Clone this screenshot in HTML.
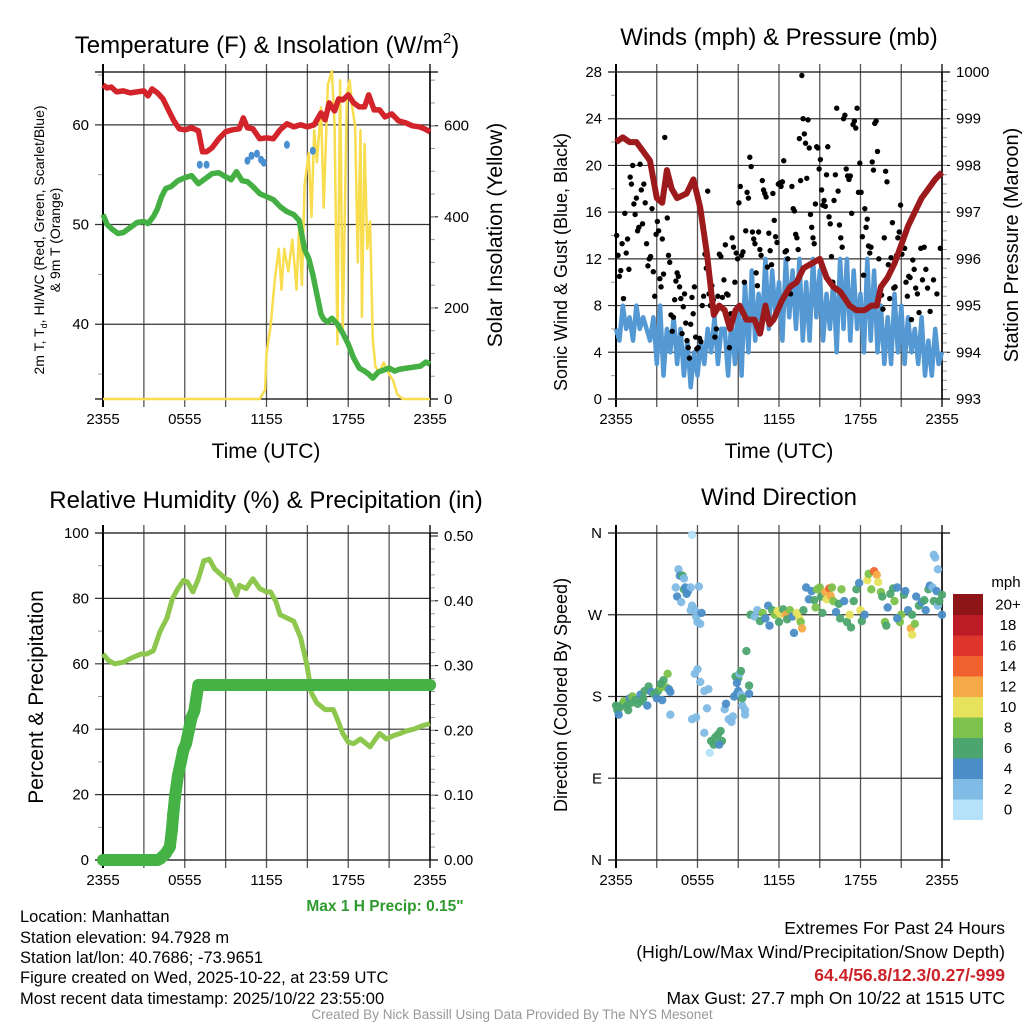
<!DOCTYPE html>
<html><head><meta charset="utf-8"><title>NYS Mesonet Manhattan Meteogram</title>
<style>
html,body{margin:0;padding:0;background:#fff;}
svg{display:block;font-family:"Liberation Sans",sans-serif;}
.tk{font-size:15px;fill:#000;}
.ttl{font-size:24px;fill:#000;}
.ax{font-size:21px;fill:#000;}
.ft{font-size:16.5px;}
.fr{font-size:17.5px;}
</style></head>
<body>
<svg id="chart" width="1024" height="1024" viewBox="0 0 1024 1024" xmlns="http://www.w3.org/2000/svg">
<rect x="0" y="0" width="1024" height="1024" fill="#fff"/>
<g id="p1"></g>
<g id="p2"></g>
<g id="p3"></g>
<g id="p4"></g>

<text class="ttl" x="267" y="53" text-anchor="middle">Temperature (F) &amp; Insolation (W/m<tspan dy="-10" font-size="15">2</tspan><tspan dy="10">)</tspan></text>
<text class="ttl" x="779" y="45" text-anchor="middle">Winds (mph) &amp; Pressure (mb)</text>
<text class="ttl" x="266" y="508" text-anchor="middle">Relative Humidity (%) &amp; Precipitation (in)</text>
<text class="ttl" x="779" y="505" text-anchor="middle">Wind Direction</text>

<text class="ax" x="266" y="458" text-anchor="middle">Time (UTC)</text>
<text class="ax" x="779" y="458" text-anchor="middle">Time (UTC)</text>
<text font-size="14" transform="translate(44,240) rotate(-90)" text-anchor="middle">2m T, T<tspan font-size="9" dy="3">d</tspan><tspan dy="-3">, HI/WC (Red, Green, Scarlet/Blue)</tspan></text>
<text font-size="14" transform="translate(60,240) rotate(-90)" text-anchor="middle">&amp; 9m T (Orange)</text>
<text class="ax" style="font-size:21px" transform="translate(502,235) rotate(-90)" text-anchor="middle">Solar Insolation (Yellow)</text>
<text class="ax" style="font-size:18px" transform="translate(567,262) rotate(-90)" text-anchor="middle">Sonic Wind &amp; Gust (Blue, Black)</text>
<text class="ax" style="font-size:20px" transform="translate(1018,245) rotate(-90)" text-anchor="middle">Station Pressure (Maroon)</text>
<text class="ax" style="font-size:21px" transform="translate(43,697) rotate(-90)" text-anchor="middle">Percent &amp; Precipitation</text>
<text class="ax" style="font-size:18px" transform="translate(567,695) rotate(-90)" text-anchor="middle">Direction (Colored By Speed)</text>

<text x="385" y="911" font-size="15.5" font-weight="bold" style="fill:#2e9a2e" text-anchor="middle">Max 1 H Precip: 0.15"</text>
<g>
<text class="ft" x="20" y="922">Location: Manhattan</text>
<text class="ft" x="20" y="943">Station elevation: 94.7928 m</text>
<text class="ft" x="20" y="963">Station lat/lon: 40.7686; -73.9651</text>
<text class="ft" x="20" y="983">Figure created on Wed, 2025-10-22, at 23:59 UTC</text>
<text class="ft" x="20" y="1004">Most recent data timestamp: 2025/10/22 23:55:00</text>
</g>
<g>
<text class="fr" x="1005" y="934" text-anchor="end">Extremes For Past 24 Hours</text>
<text class="fr" x="1005" y="958" text-anchor="end">(High/Low/Max Wind/Precipitation/Snow Depth)</text>
<text class="fr" x="1005" y="981" text-anchor="end" font-weight="bold" style="fill:#cc2229">64.4/56.8/12.3/0.27/-999</text>
<text class="fr" x="1005" y="1004" text-anchor="end">Max Gust: 27.7 mph On 10/22 at 1515 UTC</text>
</g>
<text x="512" y="1019" font-size="13.5" style="fill:#999" text-anchor="middle">Created By Nick Bassill Using Data Provided By The NYS Mesonet</text>
</svg>
<script>
// ---------- data ----------
const xTickLabels = ["2355","0555","1155","1755","2355"];
// Panel 1
const tempT = [0,0.3,0.6,1,1.5,2,2.5,3,3.3,3.6,4,4.4,4.8,5.2,5.6,6,6.5,7,7.3,7.6,8,8.5,9,9.5,10,10.3,10.6,11,11.5,12,12.5,13,13.5,14,14.5,15,15.5,16,16.3,16.6,17,17.3,17.6,18,18.4,18.8,19.2,19.5,19.9,20.3,20.7,21.2,21.7,22.2,22.7,23.2,23.6,24];
const tempV = [64,63.7,63.8,63.3,63.4,63.2,63.3,63.4,62.9,63.6,63.2,62.6,61.5,60.4,59.6,59.5,59.7,59.4,57.3,57.3,57.7,58.6,59.3,59.5,59.6,60.7,59.7,59.6,58.6,58.7,58.6,59.5,60.1,59.8,60,59.8,60,61.2,60.5,62.2,61.4,62.6,62.5,63,62.2,61.8,61.8,63,61.5,61.5,60.8,61.1,60.4,60.2,59.9,59.8,59.6,59.3];
const dewT = [0,0.3,0.7,1.1,1.5,2,2.5,3,3.3,3.7,4,4.3,4.6,5,5.5,6,6.5,7,7.3,7.6,8,8.5,9,9.4,9.8,10.2,10.6,11,11.5,12,12.5,13,13.5,14,14.4,14.8,15.1,15.4,15.7,16,16.2,16.5,16.8,17.2,17.6,18,18.4,18.8,19.2,19.5,19.8,20.2,20.6,21,21.4,21.8,22.3,22.8,23.3,23.7,24];
const dewV = [51,50,49.5,49.1,49.2,49.7,50.2,50.3,50.1,50.8,51.6,52.8,53.6,53.8,54.4,54.7,54.9,54.1,54.4,54.7,55.1,55.2,54.8,54.5,55.3,54.4,54.3,53.8,53.1,52.8,52.5,51.8,51.3,51,50.4,47.5,46.6,45,43,41,40.5,40.2,40.6,40,39.1,38,36.6,35.6,35.3,35,34.6,35.2,35.4,35.6,35.3,35.5,35.6,35.7,35.8,36.2,36];
const hiT = [7.1,7.6,10.6,10.9,11.3,11.6,11.8,13.5,15.4];
const hiV = [56,56,56.4,56.9,57.1,56.5,56.2,58,57.4];
const solT = [0,11.5,11.9,12.0,12.3,12.6,12.9,13.1,13.3,13.6,13.9,14.2,14.4,14.6,14.8,15.1,15.3,15.5,15.7,16.0,16.2,16.5,16.8,17.0,17.2,17.4,17.6,17.9,18.1,18.3,18.5,18.7,18.9,19.0,19.2,19.4,19.6,19.8,20.0,20.3,20.6,20.9,21.3,21.6,22,24];
const solV = [0,0,20,100,160,260,330,240,330,280,350,240,380,250,470,540,400,590,520,640,420,690,720,600,120,700,150,670,700,640,600,300,590,180,560,330,390,130,70,60,80,60,40,10,0,0];
// Panel 2
const windV = [6,5,8,6, 7,5,8,6, 7,6,5,7, 3,8,2,6, 4,7,3,6, 2,5,1,4, 2,5,3,6, 4,7,3,6, 6,2,7,3, 8,2,10,4, 11,5,9,6, 12,6,11,7, 10,5,12,7, 11,6,12,5, 10,5,12,7, 11,5,9,6, 10,4,12,6, 12,5,11,6, 9,4,12,5, 11,4,8,3, 7,3,9,4, 8,3,7,4, 6,3,7,2, 5,2,6,3, 4];
const gustByHour = [
 [14,12.3,10.5,11,13.3,8.6,15.9,12.5,13.7,11.1],
 [19,18.4,20,16.7,15.8,17.2,14.4,14.7,20.1,17.9,15],
 [18.4,16.8,13.3,11.4,12,12.2,16.3,10.9,8.8,14.1],
 [15.2,14.4,10.3,9.6,13.7,10.7,22.4,18.3,15.5,12.3,11.7],
 [7.2,5.8,7,8.5,10.1,10.8,10.5,9.6,8.6,5.6,7.9],
 [9,6.5,5,4.4,3.5,6.4,8.7,7.3,9.6,5.3,4.3],
 [4.4,5.2,4.9,8,8.8,12.4,11.2,17.8,9,8],
 [9.7,8.5,5.3,6,8.8,12.4,12.2,8.7,10.2],
 [13.2,9,8.9,4.4,7.3,13.8,13,10,12.5,12],
 [16.8,18.2,12.3,12.6,10,14.4,17.7,17.2,20.7,19.9],
 [14.3,13.7,13.3,10.8,9.7,14.3,12.8,12.3,18.7,17.9,17.6],
 [17.3,11.3,14.2,12.7,11.5,17.6,15.3,13.9,13.4,18.4],
 [18.5,18.2,18.6,20.4,12.6,12.7,12,9.5,9,18.2],
 [16.3,16.1,14.1,13.8,12.8,22.3,18.7,27.7,24,22.7,21.9],
 [18.9,23.9,21.5,15.8,14.7,13.8,13.3,16.7,21.6,21.5,19.7],
 [20.5,17.9,16.6,17,16.5,19.2,21.6,15.6,15,12.2,10],
 [17,19.2,24.9,17.8,14.9,13.8,13,24,24.3,19.7],
 [19.1,18.8,19.1,15.9,23.5,23.8,23.2,24.9,17.7,20.2],
 [17.7,13.9,10.6,16.3,14.7,15.4,13.1,12.5,13,20.3,19.6],
 [23.6,23.8,21.2,12,9.3,8.9,7.7,13.8,19.5,18.6],
 [11.5,8.6,12.1,15.1,9.5,9.6,12.3,13.8,14.3,16.6],
 [12.4,13.7,12.9,10,8.8,10.5,10.4,6.8,11.9,11.1],
 [9.5,9,7.4,12.9,10.2,13,11.1,9.5],
 [7.5,10.2,9,12.9]
];
const presT = [0,0.5,1,1.5,2,2.5,3,3.4,3.75,4.1,4.5,5.2,5.7,6.2,6.7,7.2,7.6,8.0,8.4,8.8,9.1,9.6,10.2,10.6,11.0,11.3,11.6,12.2,12.8,13.3,13.8,14.4,15,15.5,16,16.5,17.2,17.7,18.3,18.8,19.2,19.5,20,20.5,21,21.5,22,22.5,23,23.5,24];
const presV = [998.5,998.6,998.5,998.5,998.3,998.1,997.3,997.2,997.9,997.5,997.3,997.4,997.7,997.1,996.1,994.8,995.0,994.9,994.5,994.9,995.0,994.7,994.7,994.4,995.0,994.6,994.7,995.1,995.4,995.5,995.8,995.9,996.0,995.6,995.4,995.3,995.0,994.9,994.9,995.0,995.0,995.4,995.6,995.9,996.3,996.7,997.0,997.3,997.5,997.7,997.85];
// Panel 3
const rhT = [0,0.4,0.86,1.5,2.2,2.8,3.2,3.7,4.2,4.7,5.1,5.5,5.9,6.2,6.6,7.0,7.4,7.8,8.2,8.6,9.0,9.3,9.8,10.0,10.5,11.0,11.5,12.0,12.3,12.7,13.0,13.5,14.0,14.5,14.95,15.3,15.7,16.3,16.9,17.3,17.6,18.0,18.4,18.9,19.2,19.6,20.0,20.3,20.8,21.3,21.8,22.3,22.8,23.4,24];
const rhV = [63,61,60,60.5,62,63,63,64,70,74,80,83,85.5,85,82,86,91.5,92,89,87.5,86,85.5,81,84,83,86,83,82,82,79,75,74,73,68,60,51,48,46,46,42,38.7,36,35.6,37,36,34.6,37,38.7,37,38,38.7,39.5,40,41,41.7];
const prT = [0,4.0,4.2,4.6,4.9,5.05,5.15,5.3,5.5,5.7,5.9,6.1,6.3,6.5,6.7,6.85,7.0,24];
const prV = [0,0,0.002,0.01,0.02,0.045,0.07,0.1,0.13,0.15,0.17,0.18,0.2,0.22,0.23,0.25,0.27,0.27];
// Panel 4
const dirT = [0,0.1,0.2,0.3,0.5,0.6,0.8,0.9,1.0,1.1,1.2,1.4,1.6,1.8,1.9,2.0,2.1,2.3,2.4,2.6,2.8,3.0,3.1,3.3,3.4,3.5,3.7,3.8,3.9,4.0,3.3,4.0,
 4.4,4.5,4.6,4.7,4.9,5.0,4.8,5.1,5.3,5.5,5.2,5.0,5.6,5.8,5.9,6.0,6.2,6.3,5.5,5.6,6.1,
 5.6,5.8,6.0,5.9,6.2,6.5,6.8,6.7,6.5,7.0,7.3,7.5,7.7,7.8,7.2,7.6,6.9,8.0,8.1,8.3,8.5,8.6,8.7,8.9,9.0,9.2,9.3,9.5,9.0,8.8,8.9,9.1,9.3,9.8,9.8,9.6,9.2,9.5,
 9.9,10.2,10.4,10.6,10.8,11.0,11.2,11.3,11.5,11.7,11.9,12.0,12.1,12.3,12.5,12.6,12.8,13.0,13.1,13.3,13.5,13.6,13.7,13.8,14.0,14.2,14.4,14.6,14.7,14.8,15.0,15.1,15.2,15.4,15.5,15.7,15.8,15.9,16.0,16.2,16.4,16.5,16.6,16.8,17.0,17.2,17.3,17.5,17.7,17.9,18.0,18.1,18.3,18.5,18.6,18.8,19.0,19.2,19.3,19.5,19.6,19.8,20.0,20.2,20.4,20.5,20.7,20.9,21.0,21.2,21.3,21.5,21.7,21.8,22.0,22.1,22.3,22.5,22.7,22.8,23.0,23.1,23.3,23.4,23.6,23.7,23.8,24.0,23.4,23.5,23.7,24.0,21.8,20.7,19.9];
const dirD = [170,165,160,168,172,175,170,165,178,173,180,176,172,182,175,178,186,170,191,185,183,178,186,190,176,198,190,205,188,185,194,160,
 300,290,320,313,313,298,284,300,296,300,293,310,280,275,268,262,260,272,275,358,301,
 155,205,210,157,196,186,188,167,140,131,135,138,142,131,127,127,118,166,172,155,152,158,180,183,186,182,170,165,200,202,195,205,178,183,192,230,208,160,
 270,268,275,263,272,266,280,258,275,270,274,262,271,276,270,265,275,268,250,272,266,262,255,275,300,287,296,286,278,298,300,290,272,295,287,299,291,300,285,273,282,266,298,285,262,270,256,285,298,305,275,263,270,308,315,298,318,314,306,295,290,262,278,293,299,285,300,262,270,292,296,275,255,270,260,290,280,284,286,275,298,302,300,285,296,280,285,292,336,333,320,270,248,266,258];
const dirS = [6,6,4,6,6,8,6,6,4,6,8,6,6,4,6,6,6,4,6,4,6,4,6,8,4,6,8,8,4,4,6,2,
 2,4,2,4,6,6,2,4,4,2,4,2,2,2,2,2,2,4,2,0,2,
 2,2,2,2,2,2,2,2,2,6,6,6,6,6,6,4,0,2,4,2,2,2,4,4,4,2,2,2,6,6,4,2,6,4,6,6,6,2,
 6,2,2,6,8,4,4,4,6,8,10,6,10,6,12,6,8,4,4,10,10,8,12,6,4,4,4,6,8,8,8,6,6,12,10,14,12,8,8,4,6,6,8,4,6,10,6,6,6,4,10,6,4,10,8,8,14,12,10,8,6,8,4,6,6,8,4,8,8,6,4,4,12,6,8,4,6,4,6,4,6,4,2,6,4,2,6,6,2,2,2,4,10,4,6];
const cbarLabels = ["0","2","4","6","8","10","12","14","16","18","20+"];
const cbarColors = ["#b5e2f8","#7fbbe5","#4a8dc7","#4ca56f","#7cc24b","#e6e25b","#f6aa47","#ef6230","#dd3529","#bb1c25","#8e1517"];

// ---------- helpers ----------
const NS = "http://www.w3.org/2000/svg";
function mk(parent, tag, attrs) {
  const e = document.createElementNS(NS, tag);
  for (const k in attrs) e.setAttribute(k, attrs[k]);
  parent.appendChild(e);
  return e;
}
function lin(d0, d1, r0, r1) { return v => r0 + (v - d0) * (r1 - r0) / (d1 - d0); }
function pathD(ts, vs, sx, sy) {
  return ts.map((t, i) => (i ? "L" : "M") + sx(t).toFixed(1) + "," + sy(vs[i]).toFixed(1)).join("");
}

function frame(g, x0, x1, y0, y1, prefix, withXLabels) {
  const sx = lin(0, 24, x0, x1);
  for (let h = 0; h <= 24; h += 3) {
    const x = sx(h);
    const l = mk(g, "line", {x1: x, x2: x, y1: y0 - 8, y2: y1 + 8, stroke: (h === 0 || h === 24) ? "#000" : "#555", "stroke-width": (h === 0) ? 2 : 1.3});
    
    
  }
  if (withXLabels) {
    xTickLabels.forEach((lab, i) => {
      const t = mk(g, "text", {x: sx(i * 6), y: y1 + 25, "text-anchor": "middle", class: "tk"});
      t.textContent = lab;
      
      
    });
  }
  const b = mk(g, "line", {x1: x0 - 8, x2: x1 + 8, y1: y0, y2: y0, stroke: "#000", "stroke-width": 1.3});
  
  
  const bb = mk(g, "line", {x1: x0 - 8, x2: x1 + 8, y1: y1, y2: y1, stroke: "#000", "stroke-width": 1.3});
  
  
  return sx;
}
function yAxis(g, vals, labels, sy, x0, x1, prefix, side, grid, minor) {
  vals.forEach((v, i) => {
    const y = sy(v);
    if (grid) {
      const gl = mk(g, "line", {x1: x0 - 8, x2: x1 + (side === "left" ? 0 : 8), y1: y, y2: y, stroke: "#333", "stroke-width": 1.2});
      
      
    } else {
      const tl = side === "left" ? mk(g, "line", {x1: x0 - 8, x2: x0, y1: y, y2: y, stroke: "#000"}) : mk(g, "line", {x1: x1, x2: x1 + 8, y1: y, y2: y, stroke: "#000"});
      
      
    }
    const t = side === "left" ? mk(g, "text", {x: x0 - 14, y: y + 5, "text-anchor": "end", class: "tk"}) : mk(g, "text", {x: x1 + 14, y: y + 5, "text-anchor": "start", class: "tk"});
    t.textContent = labels[i];
    
    
  });
  (minor || []).forEach(v => {
    const y = sy(v);
    const m = side === "left" ? mk(g, "line", {x1: x0 - 5, x2: x0, y1: y, y2: y, stroke: "#999"}) : mk(g, "line", {x1: x1, x2: x1 + 5, y1: y, y2: y, stroke: "#999"});
    
    
  });
}
function vline(g, x0, x1, y0, y1, prefix) {
  const a = mk(g, "line", {x1: x0, x2: x0, y1: y0, y2: y1, stroke: "#000", "stroke-width": 2});
  
  
  const b = mk(g, "line", {x1: x1, x2: x1, y1: y0, y2: y1, stroke: "#000", "stroke-width": 1.5});
  
  
}
function rng(a, b, s) { const r = []; for (let v = a; v <= b + 1e-9; v += s) r.push(+v.toFixed(3)); return r; }

// ---------- Panel 1 ----------
(function () {
  const g = document.getElementById("p1");
  const X0 = 103, X1 = 430, Y0 = 72, Y1 = 399;
  const sx = frame(g, X0, X1, Y0, Y1, "temperature", true);
  const sy = lin(32.5, 65.3, Y1, Y0);
  const sys = lin(0, 718, Y1, Y0);
  yAxis(g, [40, 50, 60], ["40", "50", "60"], sy, X0, X1, "temperature", "left", true, [35, 45, 55, 65]);
  yAxis(g, [0, 200, 400, 600], ["0", "200", "400", "600"], sys, X0, X1, "solar", "right", false, rng(50, 700, 50));
  vline(g, X0, X1, Y0, Y1, "temperature");
  const ps = mk(g, "path", {d: pathD(solT, solV, sx, sys), fill: "none", stroke: "#f8dd4f", "stroke-width": 2.5, "stroke-linejoin": "round"});
  
  
  const pd = mk(g, "path", {d: pathD(dewT, dewV, sx, sy), fill: "none", stroke: "#44b044", "stroke-width": 5.5, "stroke-linejoin": "round"});
  
  
  const pt = mk(g, "path", {d: pathD(tempT, tempV, sx, sy), fill: "none", stroke: "#d4242b", "stroke-width": 5.5, "stroke-linejoin": "round"});
  
  
  hiT.forEach((t, i) => {
    const c = mk(g, "ellipse", {cx: sx(t), cy: sy(hiV[i]), rx: 3, ry: 4, fill: "#4a90d0"});
    
    
  });
})();

// ---------- Panel 2 ----------
(function () {
  const g = document.getElementById("p2");
  const X0 = 616, X1 = 942, Y0 = 72, Y1 = 399;
  const sx = frame(g, X0, X1, Y0, Y1, "winds", true);
  const sy = lin(0, 28, Y1, Y0);
  const sp = lin(993, 1000, Y1, Y0);
  yAxis(g, rng(0, 28, 4), rng(0, 28, 4).map(String), sy, X0, X1, "wind", "left", true, rng(2, 26, 4));
  yAxis(g, rng(993, 1000, 1), rng(993, 1000, 1).map(String), sp, X0, X1, "pressure", "right", false, rng(993.2, 999.8, 0.2));
  vline(g, X0, X1, Y0, Y1, "winds");
  const wt = windV.map((v, i) => i * 0.25);
  const pw = mk(g, "path", {d: pathD(wt, windV, sx, sy), fill: "none", stroke: "#5499d3", "stroke-width": 4.5, "stroke-linejoin": "round"});
  
  
  gustByHour.forEach((arr, h) => {
    arr.forEach((v, i) => {
      const t = Math.min(24, h + (i + 0.5) / arr.length);
      const c = mk(g, "circle", {cx: sx(t), cy: sy(v), r: 2.7, fill: "#000"});
      
      
    });
  });
  const pp = mk(g, "path", {d: pathD(presT, presV, sx, sp), fill: "none", stroke: "#9c1a1c", "stroke-width": 6, "stroke-linejoin": "round"});
  
  
})();

// ---------- Panel 3 ----------
(function () {
  const g = document.getElementById("p3");
  const X0 = 103, X1 = 430, Y0 = 533, Y1 = 860;
  const sx = frame(g, X0, X1, Y0, Y1, "humidity", true);
  const sy = lin(0, 100, Y1, Y0);
  const sp = lin(0, 0.5, Y1, 536);
  yAxis(g, rng(0, 100, 20), rng(0, 100, 20).map(String), sy, X0, X1, "humidity", "left", true, rng(10, 90, 20));
  yAxis(g, rng(0, 0.5, 0.1), ["0.00", "0.10", "0.20", "0.30", "0.40", "0.50"], sp, X0, X1, "precip", "right", false, rng(0.02, 0.48, 0.02));
  vline(g, X0, X1, Y0, Y1, "humidity");
  const pr = mk(g, "path", {d: pathD(rhT, rhV, sx, sy), fill: "none", stroke: "#8dc74d", "stroke-width": 5, "stroke-linejoin": "round"});
  
  
  const pp = mk(g, "path", {d: pathD(prT, prV, sx, sp), fill: "none", stroke: "#45b245", "stroke-width": 12, "stroke-linejoin": "round", "stroke-linecap": "round"});
  
  
  prT.forEach((t, i) => {
    const c = mk(g, "circle", {cx: sx(t), cy: sp(prV[i]), r: 6, fill: "#45b245"});
    
    
  });
})();

// ---------- Panel 4 ----------
(function () {
  const g = document.getElementById("p4");
  const X0 = 616, X1 = 942, Y0 = 533, Y1 = 860;
  const sx = frame(g, X0, X1, Y0, Y1, "direction", true);
  const sy = lin(0, 360, Y1, Y0);
  yAxis(g, [0, 90, 180, 270, 360], ["N", "E", "S", "W", "N"], sy, X0, X1, "direction", "left", true, []);
  vline(g, X0, X1, Y0, Y1, "direction");
  dirT.forEach((t, i) => {
    const ci = Math.min(10, Math.max(0, Math.floor(dirS[i] / 2)));
    const c = mk(g, "circle", {cx: sx(t), cy: sy(dirD[i]), r: 4.2, fill: cbarColors[ci], "fill-opacity": 0.95});
    
    
  });
  const cb = mk(g, "g", {});
  
  
  const top = 594, h = 20.5;
  cbarColors.forEach((col, i) => {
    const y = top + (10 - i) * h;
    const r = mk(cb, "rect", {x: 953, y: y, width: 30, height: h + 0.5, fill: col});
    
    
    const t = mk(cb, "text", {x: 1008, y: y + h / 2 + 5, "text-anchor": "middle", class: "tk"});
    t.textContent = cbarLabels[i];
    
    
  });
  const u = mk(cb, "text", {x: 1006, y: 587, "text-anchor": "middle", class: "tk"});
  u.textContent = "mph";
  
  
})();
</script>
</body></html>
